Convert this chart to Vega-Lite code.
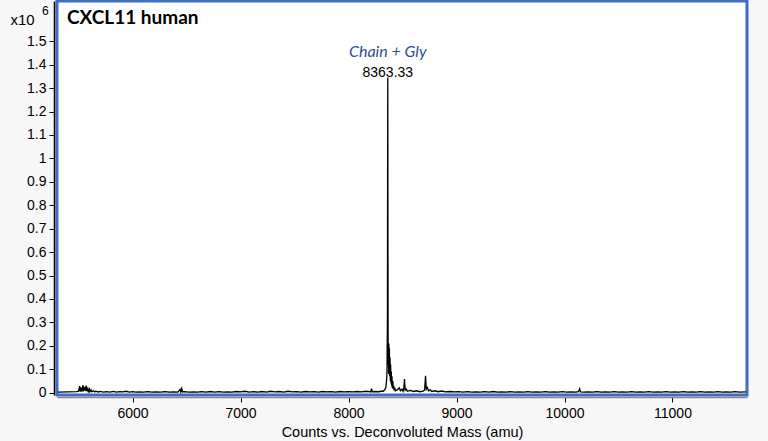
{
  "$schema": "https://vega.github.io/schema/vega-lite/v6.json",
  "width": 690,
  "height": 394,
  "autosize": {"type": "none"},
  "padding": {"left": 57, "top": 1, "right": 21, "bottom": 46},
  "background": "#f7f7f7",
  "config": {"view": {"fill": "white", "stroke": "#3d6dc4", "strokeWidth": 3}},
  "datasets": {
    "spectrum": [
      {"mass": 5310, "counts": 0.002}, {"mass": 5400, "counts": 0.003}, {"mass": 5480, "counts": 0.004},
      {"mass": 5500, "counts": 0.006}, {"mass": 5510, "counts": 0.028}, {"mass": 5515, "counts": 0.005},
      {"mass": 5525, "counts": 0.022}, {"mass": 5530, "counts": 0.004}, {"mass": 5540, "counts": 0.032},
      {"mass": 5545, "counts": 0.006}, {"mass": 5555, "counts": 0.025}, {"mass": 5560, "counts": 0.008},
      {"mass": 5570, "counts": 0.030}, {"mass": 5575, "counts": 0.006}, {"mass": 5585, "counts": 0.018},
      {"mass": 5590, "counts": 0.005}, {"mass": 5600, "counts": 0.015}, {"mass": 5605, "counts": 0.004},
      {"mass": 5615, "counts": 0.012}, {"mass": 5620, "counts": 0.004}, {"mass": 5640, "counts": 0.008},
      {"mass": 5650, "counts": 0.003}, {"mass": 5660, "counts": 0.006}, {"mass": 5680, "counts": 0.003},
      {"mass": 5700, "counts": 0.005}, {"mass": 5730, "counts": 0.002}, {"mass": 5760, "counts": 0.004},
      {"mass": 5790, "counts": 0.002}, {"mass": 5820, "counts": 0.005}, {"mass": 5850, "counts": 0.002},
      {"mass": 5880, "counts": 0.004}, {"mass": 5910, "counts": 0.003}, {"mass": 5940, "counts": 0.006},
      {"mass": 5970, "counts": 0.002}, {"mass": 6000, "counts": 0.004}, {"mass": 6030, "counts": 0.002},
      {"mass": 6060, "counts": 0.003}, {"mass": 6100, "counts": 0.002}, {"mass": 6140, "counts": 0.004},
      {"mass": 6180, "counts": 0.002}, {"mass": 6220, "counts": 0.003}, {"mass": 6260, "counts": 0.002},
      {"mass": 6300, "counts": 0.004}, {"mass": 6340, "counts": 0.002}, {"mass": 6380, "counts": 0.003},
      {"mass": 6420, "counts": 0.002}, {"mass": 6440, "counts": 0.014}, {"mass": 6446, "counts": 0.003},
      {"mass": 6455, "counts": 0.017}, {"mass": 6462, "counts": 0.003}, {"mass": 6480, "counts": 0.004},
      {"mass": 6520, "counts": 0.002}, {"mass": 6560, "counts": 0.003}, {"mass": 6600, "counts": 0.002},
      {"mass": 6640, "counts": 0.004}, {"mass": 6680, "counts": 0.002}, {"mass": 6720, "counts": 0.005},
      {"mass": 6760, "counts": 0.002}, {"mass": 6800, "counts": 0.004}, {"mass": 6840, "counts": 0.002},
      {"mass": 6880, "counts": 0.003}, {"mass": 6920, "counts": 0.002}, {"mass": 6960, "counts": 0.005},
      {"mass": 7000, "counts": 0.003}, {"mass": 7040, "counts": 0.006}, {"mass": 7080, "counts": 0.002},
      {"mass": 7120, "counts": 0.004}, {"mass": 7160, "counts": 0.002}, {"mass": 7200, "counts": 0.005},
      {"mass": 7240, "counts": 0.002}, {"mass": 7280, "counts": 0.006}, {"mass": 7320, "counts": 0.003},
      {"mass": 7360, "counts": 0.005}, {"mass": 7400, "counts": 0.002}, {"mass": 7440, "counts": 0.006},
      {"mass": 7480, "counts": 0.003}, {"mass": 7520, "counts": 0.004}, {"mass": 7560, "counts": 0.002},
      {"mass": 7600, "counts": 0.005}, {"mass": 7640, "counts": 0.003}, {"mass": 7680, "counts": 0.004},
      {"mass": 7720, "counts": 0.002}, {"mass": 7760, "counts": 0.005}, {"mass": 7800, "counts": 0.003},
      {"mass": 7840, "counts": 0.004}, {"mass": 7880, "counts": 0.002}, {"mass": 7920, "counts": 0.005},
      {"mass": 7960, "counts": 0.003}, {"mass": 8000, "counts": 0.004}, {"mass": 8040, "counts": 0.003},
      {"mass": 8080, "counts": 0.005}, {"mass": 8120, "counts": 0.003}, {"mass": 8160, "counts": 0.006},
      {"mass": 8190, "counts": 0.004}, {"mass": 8205, "counts": 0.003}, {"mass": 8213, "counts": 0.017},
      {"mass": 8220, "counts": 0.004}, {"mass": 8250, "counts": 0.005}, {"mass": 8280, "counts": 0.004},
      {"mass": 8300, "counts": 0.006}, {"mass": 8320, "counts": 0.006}, {"mass": 8335, "counts": 0.012},
      {"mass": 8345, "counts": 0.022}, {"mass": 8352, "counts": 0.05}, {"mass": 8356, "counts": 0.09},
      {"mass": 8360, "counts": 0.3}, {"mass": 8362, "counts": 1.0}, {"mass": 8363.33, "counts": 1.345},
      {"mass": 8365, "counts": 0.6}, {"mass": 8367, "counts": 0.12}, {"mass": 8369, "counts": 0.20},
      {"mass": 8371, "counts": 0.08}, {"mass": 8373, "counts": 0.21}, {"mass": 8375, "counts": 0.10},
      {"mass": 8378, "counts": 0.19}, {"mass": 8381, "counts": 0.07}, {"mass": 8384, "counts": 0.15},
      {"mass": 8387, "counts": 0.05}, {"mass": 8390, "counts": 0.12}, {"mass": 8393, "counts": 0.04},
      {"mass": 8396, "counts": 0.09}, {"mass": 8399, "counts": 0.03}, {"mass": 8402, "counts": 0.07},
      {"mass": 8405, "counts": 0.02}, {"mass": 8410, "counts": 0.05}, {"mass": 8414, "counts": 0.015},
      {"mass": 8418, "counts": 0.03}, {"mass": 8423, "counts": 0.01}, {"mass": 8428, "counts": 0.02},
      {"mass": 8434, "counts": 0.008}, {"mass": 8450, "counts": 0.012}, {"mass": 8470, "counts": 0.02},
      {"mass": 8480, "counts": 0.008}, {"mass": 8495, "counts": 0.015}, {"mass": 8505, "counts": 0.006},
      {"mass": 8512, "counts": 0.02}, {"mass": 8518, "counts": 0.058}, {"mass": 8524, "counts": 0.01},
      {"mass": 8535, "counts": 0.015}, {"mass": 8545, "counts": 0.006}, {"mass": 8570, "counts": 0.01},
      {"mass": 8600, "counts": 0.005}, {"mass": 8630, "counts": 0.008}, {"mass": 8660, "counts": 0.004},
      {"mass": 8690, "counts": 0.006}, {"mass": 8705, "counts": 0.012}, {"mass": 8713, "counts": 0.072},
      {"mass": 8720, "counts": 0.015}, {"mass": 8730, "counts": 0.022}, {"mass": 8740, "counts": 0.008},
      {"mass": 8755, "counts": 0.012}, {"mass": 8770, "counts": 0.005}, {"mass": 8800, "counts": 0.008},
      {"mass": 8830, "counts": 0.004}, {"mass": 8860, "counts": 0.007}, {"mass": 8900, "counts": 0.003},
      {"mass": 8940, "counts": 0.005}, {"mass": 8980, "counts": 0.003}, {"mass": 9020, "counts": 0.004},
      {"mass": 9060, "counts": 0.002}, {"mass": 9100, "counts": 0.004}, {"mass": 9140, "counts": 0.002},
      {"mass": 9180, "counts": 0.003}, {"mass": 9220, "counts": 0.002}, {"mass": 9260, "counts": 0.004},
      {"mass": 9300, "counts": 0.002}, {"mass": 9340, "counts": 0.005}, {"mass": 9380, "counts": 0.002},
      {"mass": 9420, "counts": 0.003}, {"mass": 9460, "counts": 0.002}, {"mass": 9500, "counts": 0.004},
      {"mass": 9540, "counts": 0.002}, {"mass": 9580, "counts": 0.003}, {"mass": 9620, "counts": 0.002},
      {"mass": 9660, "counts": 0.004}, {"mass": 9700, "counts": 0.002}, {"mass": 9740, "counts": 0.003},
      {"mass": 9780, "counts": 0.002}, {"mass": 9820, "counts": 0.004}, {"mass": 9860, "counts": 0.002},
      {"mass": 9900, "counts": 0.003}, {"mass": 9940, "counts": 0.002}, {"mass": 9980, "counts": 0.004},
      {"mass": 10020, "counts": 0.002}, {"mass": 10060, "counts": 0.003}, {"mass": 10100, "counts": 0.002},
      {"mass": 10130, "counts": 0.004}, {"mass": 10140, "counts": 0.016}, {"mass": 10148, "counts": 0.003},
      {"mass": 10180, "counts": 0.002}, {"mass": 10220, "counts": 0.003}, {"mass": 10260, "counts": 0.002},
      {"mass": 10300, "counts": 0.004}, {"mass": 10340, "counts": 0.002}, {"mass": 10380, "counts": 0.003},
      {"mass": 10420, "counts": 0.002}, {"mass": 10460, "counts": 0.004}, {"mass": 10500, "counts": 0.002},
      {"mass": 10540, "counts": 0.003}, {"mass": 10580, "counts": 0.002}, {"mass": 10620, "counts": 0.004},
      {"mass": 10660, "counts": 0.002}, {"mass": 10700, "counts": 0.003}, {"mass": 10740, "counts": 0.002},
      {"mass": 10780, "counts": 0.004}, {"mass": 10820, "counts": 0.002}, {"mass": 10860, "counts": 0.003},
      {"mass": 10900, "counts": 0.002}, {"mass": 10940, "counts": 0.004}, {"mass": 10980, "counts": 0.002},
      {"mass": 11020, "counts": 0.003}, {"mass": 11060, "counts": 0.002}, {"mass": 11100, "counts": 0.004},
      {"mass": 11140, "counts": 0.002}, {"mass": 11180, "counts": 0.003}, {"mass": 11220, "counts": 0.002},
      {"mass": 11260, "counts": 0.004}, {"mass": 11300, "counts": 0.002}, {"mass": 11340, "counts": 0.003},
      {"mass": 11380, "counts": 0.002}, {"mass": 11420, "counts": 0.004}, {"mass": 11460, "counts": 0.002},
      {"mass": 11500, "counts": 0.003}, {"mass": 11540, "counts": 0.002}, {"mass": 11580, "counts": 0.004},
      {"mass": 11620, "counts": 0.002}, {"mass": 11680, "counts": 0.003}
    ],
    "labels": [
      {"mass": 5392, "counts": 1.60, "label": "CXCL11 human", "kind": "title"},
      {"mass": 8363.33, "counts": 1.454, "label": "Chain + Gly", "kind": "name"},
      {"mass": 8363.33, "counts": 1.365, "label": "8363.33", "kind": "mass"},
      {"mass": 5160, "counts": 1.628, "label": "6", "kind": "exp"}
    ]
  },
  "encoding": {
    "x": {
      "field": "mass", "type": "quantitative",
      "scale": {"domain": [5300, 11690], "nice": false, "zero": false},
      "axis": {
        "title": "Counts vs. Deconvoluted Mass (amu)",
        "values": [6000, 7000, 8000, 9000, 10000, 11000],
        "format": "d", "grid": false, "offset": 2, "labelOverlap": false,
        "domainColor": "#8a8a8a", "domainWidth": 1.5,
        "tickColor": "black", "tickSize": 5,
        "labelFont": "Liberation Sans", "labelFontSize": 14, "labelColor": "black", "labelPadding": 4,
        "titleFont": "Liberation Sans", "titleFontSize": 14.5, "titleFontWeight": "normal", "titleColor": "black", "titlePadding": 5
      }
    },
    "y": {
      "field": "counts", "type": "quantitative",
      "scale": {"domain": [-0.01, 1.672], "nice": false, "zero": false},
      "axis": {
        "title": "x10",
        "values": [0, 0.1, 0.2, 0.3, 0.4, 0.5, 0.6, 0.7, 0.8, 0.9, 1, 1.1, 1.2, 1.3, 1.4, 1.5],
        "tickCount": 16,
        "format": "~g", "grid": false, "offset": 3, "labelOverlap": false,
        "domainColor": "black", "domainWidth": 1.5,
        "tickColor": "black", "tickSize": 5,
        "labelFont": "Liberation Sans", "labelFontSize": 14, "labelColor": "black", "labelPadding": 3,
        "titleFont": "Liberation Sans", "titleFontSize": 15, "titleFontWeight": "normal", "titleColor": "black",
        "titleAngle": 0, "titleAlign": "left", "titleBaseline": "middle", "titleX": -44, "titleY": 18
      }
    }
  },
  "layer": [
    {
      "data": {"name": "spectrum"},
      "mark": {"type": "line", "color": "black", "strokeWidth": 1.3, "clip": true}
    },
    {
      "data": {"name": "labels"},
      "transform": [{"filter": "datum.kind === 'title'"}],
      "mark": {"type": "text", "font": "Lato", "fontWeight": "bold", "fontSize": 19, "align": "left", "baseline": "middle", "color": "black"},
      "encoding": {"text": {"field": "label"}}
    },
    {
      "data": {"name": "labels"},
      "transform": [{"filter": "datum.kind === 'exp'"}],
      "mark": {"type": "text", "font": "Liberation Sans", "fontSize": 12, "align": "left", "baseline": "middle", "color": "black"},
      "encoding": {"text": {"field": "label"}}
    },
    {
      "data": {"name": "labels"},
      "transform": [{"filter": "datum.kind === 'name'"}],
      "mark": {"type": "text", "font": "Lato", "fontStyle": "italic", "fontSize": 16, "align": "center", "baseline": "middle", "color": "#2f4f8f"},
      "encoding": {"text": {"field": "label"}}
    },
    {
      "data": {"name": "labels"},
      "transform": [{"filter": "datum.kind === 'mass'"}],
      "mark": {"type": "text", "font": "Liberation Sans", "fontSize": 14, "align": "center", "baseline": "middle", "color": "black"},
      "encoding": {"text": {"field": "label"}}
    }
  ]
}
